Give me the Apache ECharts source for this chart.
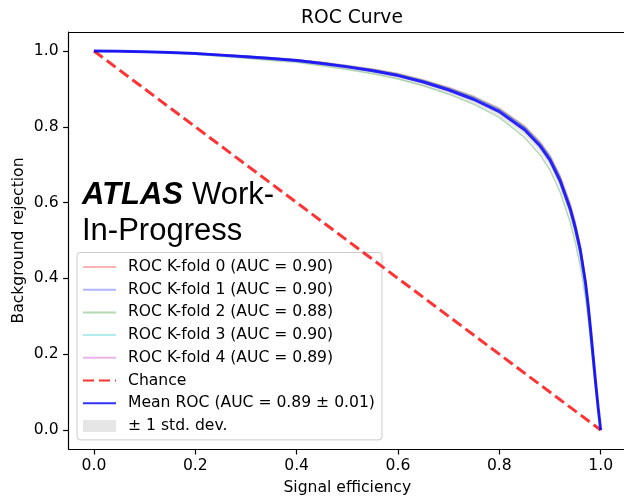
<!DOCTYPE html>
<html>
<head>
<meta charset="utf-8">
<script src="https://cdn.jsdelivr.net/npm/echarts@6/dist/echarts.min.js"></script>
<style>html,body{margin:0;padding:0;background:#fff}#c{width:624px;height:498px}</style>
</head>
<body>
<div id="c"></div>
<script>
// ---- data ----
const sigEff = [0, 0.05, 0.1, 0.15, 0.2, 0.25, 0.3, 0.35, 0.4, 0.45, 0.5, 0.55, 0.6, 0.65, 0.7, 0.75, 0.8, 0.85, 0.88, 0.9, 0.92, 0.94, 0.95, 0.96, 0.97, 0.975, 0.98, 0.985, 0.99, 0.995, 1.0];
const fold0 = [1.0, 0.9995, 0.998, 0.997, 0.994, 0.991, 0.987, 0.982, 0.977, 0.970, 0.961, 0.952, 0.940, 0.923, 0.903, 0.879, 0.848, 0.801, 0.760, 0.724, 0.670, 0.596, 0.547, 0.487, 0.402, 0.345, 0.278, 0.205, 0.132, 0.063, 0.0];
const fold1 = [1.0, 0.9995, 0.998, 0.996, 0.994, 0.990, 0.986, 0.981, 0.976, 0.969, 0.960, 0.950, 0.938, 0.921, 0.901, 0.876, 0.845, 0.798, 0.756, 0.719, 0.665, 0.590, 0.541, 0.481, 0.396, 0.339, 0.272, 0.201, 0.129, 0.062, 0.0];
const fold2 = [1.0, 0.999, 0.997, 0.995, 0.991, 0.986, 0.981, 0.975, 0.970, 0.961, 0.951, 0.940, 0.926, 0.908, 0.886, 0.859, 0.825, 0.772, 0.727, 0.686, 0.628, 0.548, 0.495, 0.432, 0.350, 0.298, 0.236, 0.172, 0.110, 0.052, 0.0];
const fold3 = [1.0, 0.9995, 0.998, 0.997, 0.994, 0.990, 0.987, 0.982, 0.977, 0.969, 0.961, 0.951, 0.939, 0.922, 0.902, 0.878, 0.846, 0.799, 0.758, 0.721, 0.667, 0.593, 0.544, 0.484, 0.399, 0.342, 0.275, 0.203, 0.130, 0.062, 0.0];
const fold4 = [1.0, 0.9995, 0.998, 0.996, 0.993, 0.989, 0.984, 0.979, 0.974, 0.966, 0.957, 0.947, 0.934, 0.917, 0.896, 0.871, 0.838, 0.790, 0.749, 0.711, 0.655, 0.580, 0.530, 0.470, 0.386, 0.330, 0.265, 0.195, 0.125, 0.060, 0.0];
const meanRoc = [1.0, 0.9995, 0.998, 0.996, 0.993, 0.989, 0.985, 0.980, 0.975, 0.967, 0.958, 0.948, 0.935, 0.918, 0.897, 0.872, 0.840, 0.792, 0.750, 0.712, 0.657, 0.582, 0.532, 0.472, 0.388, 0.332, 0.266, 0.196, 0.126, 0.060, 0.0];
const stdUpper = [1.0, 1.0, 0.999, 0.998, 0.995, 0.992, 0.988, 0.984, 0.979, 0.972, 0.964, 0.955, 0.943, 0.927, 0.907, 0.883, 0.852, 0.805, 0.765, 0.728, 0.675, 0.602, 0.553, 0.493, 0.407, 0.349, 0.281, 0.208, 0.135, 0.065, 0.0];
const stdLower = [1.0, 0.999, 0.997, 0.994, 0.991, 0.986, 0.982, 0.976, 0.971, 0.962, 0.952, 0.941, 0.927, 0.909, 0.887, 0.861, 0.828, 0.779, 0.735, 0.696, 0.639, 0.562, 0.511, 0.451, 0.369, 0.315, 0.251, 0.184, 0.117, 0.055, 0.0];
const chanceX = [0, 1];
const chanceY = [1, 0];
const tickValues = [0, 0.2, 0.4, 0.6, 0.8, 1.0];
const foldNames = ['ROC K-fold 0 (AUC = 0.90)', 'ROC K-fold 1 (AUC = 0.90)', 'ROC K-fold 2 (AUC = 0.88)', 'ROC K-fold 3 (AUC = 0.90)', 'ROC K-fold 4 (AUC = 0.89)'];
const chanceName = 'Chance';
const meanName = 'Mean ROC (AUC = 0.89 \u00b1 0.01)';
const bandName = '\u00b1 1 std. dev.';

// ---- styling ----
const FONT = 'DejaVu Sans';
const FS = 15.6;
const foldColors = ['rgba(255,0,0,0.3)', 'rgba(0,0,255,0.3)', 'rgba(0,128,0,0.3)', 'rgba(0,191,191,0.3)', 'rgba(191,0,191,0.3)'];
const folds = [fold0, fold1, fold2, fold3, fold4];
const pair = (xs, ys) => xs.map((x, i) => [x, ys[i]]);

const series = [];
folds.forEach((f, k) => {
  series.push({
    name: foldNames[k], type: 'line', data: pair(sigEff, f),
    showSymbol: false, symbol: 'none', z: 3,
    lineStyle: { color: foldColors[k], width: 1.5 }, itemStyle: { color: foldColors[k], opacity: 0 },
    emphasis: { disabled: true }, animation: false
  });
});
series.push({
  name: chanceName, type: 'line', data: pair(chanceX, chanceY),
  showSymbol: false, symbol: 'none', z: 4,
  lineStyle: { color: 'rgba(255,0,0,0.8)', width: 3, type: [11, 5] },
  itemStyle: { color: 'rgba(255,0,0,0.8)', opacity: 0 }, emphasis: { disabled: true }, animation: false
});
series.push({
  name: meanName, type: 'line', data: pair(sigEff, meanRoc),
  showSymbol: false, symbol: 'none', z: 5,
  lineStyle: { color: 'rgba(0,0,255,0.8)', width: 3 },
  itemStyle: { color: 'rgba(0,0,255,0.8)', opacity: 0 }, emphasis: { disabled: true }, animation: false
});
series.push({
  name: bandName, type: 'custom', z: 2, animation: false,
  itemStyle: { color: 'rgba(128,128,128,0.2)' },
  data: [0],
  renderItem: function (params, api) {
    const pts = [];
    for (let i = 0; i < sigEff.length; i++) pts.push(api.coord([sigEff[i], stdUpper[i]]));
    for (let i = sigEff.length - 1; i >= 0; i--) pts.push(api.coord([sigEff[i], stdLower[i]]));
    return { type: 'polygon', shape: { points: pts }, style: { fill: 'rgba(128,128,128,0.2)' } };
  }
});

const axisLineStyle = { color: '#000', width: 1.2 };
const chart = echarts.init(document.getElementById('c'), null, { renderer: 'canvas' });
chart.setOption({
  backgroundColor: '#fff',
  animation: false,
  title: {
    text: 'ROC Curve', left: 347, top: 4, textAlign: 'center',
    textStyle: { fontFamily: FONT, fontSize: 18.7, fontWeight: 'normal', color: '#000' }
  },
  grid: { left: 68.6, top: 32, width: 557.4, height: 417, outerBoundsMode: 'none', containLabel: false, show: false },
  xAxis: [{
    type: 'value', min: -0.05, max: 1.05,
    name: 'Signal efficiency', nameLocation: 'middle', nameGap: 31,
    nameTextStyle: { fontFamily: FONT, fontSize: FS, color: '#000' },
    axisLine: { show: true, onZero: false, lineStyle: axisLineStyle },
    axisTick: { show: true, length: 5.5, customValues: tickValues, lineStyle: axisLineStyle },
    axisLabel: { customValues: tickValues, margin: 9, fontFamily: FONT, fontSize: FS, color: '#000', formatter: v => v.toFixed(1) },
    splitLine: { show: false }
  }, {
    type: 'value', position: 'top', min: -0.05, max: 1.05,
    axisLine: { show: true, onZero: false, lineStyle: axisLineStyle },
    axisTick: { show: false }, axisLabel: { show: false }, splitLine: { show: false }
  }],
  yAxis: {
    type: 'value', min: -0.05, max: 1.05,
    name: 'Background rejection', nameLocation: 'middle', nameGap: 42, nameRotate: 90, nameMoveOverlap: false,
    nameTextStyle: { fontFamily: FONT, fontSize: FS, color: '#000' },
    axisLine: { show: true, onZero: false, lineStyle: axisLineStyle },
    axisTick: { show: true, length: 5.5, customValues: tickValues, lineStyle: axisLineStyle },
    axisLabel: { customValues: tickValues, margin: 10, fontFamily: FONT, fontSize: FS, color: '#000', formatter: v => v.toFixed(1) },
    splitLine: { show: false }
  },
  legend: {
    orient: 'vertical', left: 77, top: 252.5,
    data: foldNames.concat([chanceName, meanName, { name: bandName, icon: 'rect' }]),
    itemWidth: 33, itemHeight: 12, itemGap: 6.7,
    padding: [6.5, 7, 6, 5],
    backgroundColor: 'rgba(255,255,255,0.8)', borderColor: '#cccccc', borderWidth: 1, borderRadius: 3,
    textStyle: { fontFamily: FONT, fontSize: FS, lineHeight: 14, color: '#000', padding: [0, 0, 0, 7] },
    selectedMode: false
  },
  graphic: [{
    type: 'text', left: 82, top: 180, z: 10,
    style: {
      text: '{a|ATLAS}{b|Work-}\n{c|In-Progress}',
      rich: {
        a: { fontFamily: 'Liberation Sans', fontSize: 31, fontWeight: 'bold', fontStyle: 'italic', fill: '#000', lineHeight: 36 },
        b: { fontFamily: 'Liberation Sans', fontSize: 31, fill: '#000', lineHeight: 36, padding: [0, 0, 0, 9] },
        c: { fontFamily: 'Liberation Sans', fontSize: 31, fill: '#000', lineHeight: 36 }
      }
    }
  }],
  series: series
});
</script>
</body>
</html>
